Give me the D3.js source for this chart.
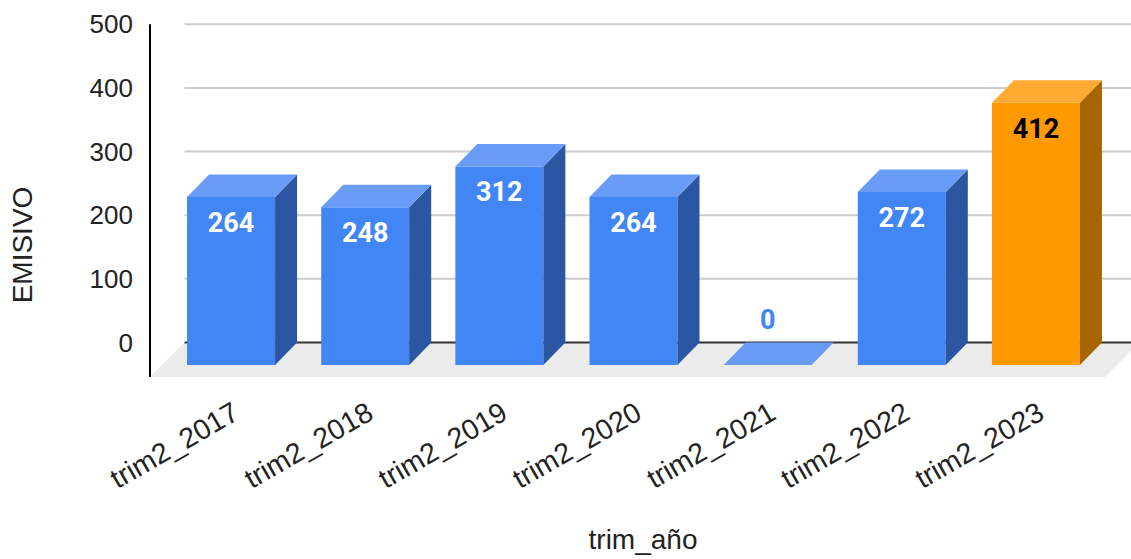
<!DOCTYPE html>
<html>
<head>
<meta charset="utf-8">
<script src="https://cdn.jsdelivr.net/npm/d3@7"></script>
<style>
  html, body { margin: 0; padding: 0; background: #fff; }
  svg { display: block; }
</style>
</head>
<body>
<svg id="chart" width="1131" height="559"></svg>
<script>
const categories = ["trim2_2017", "trim2_2018", "trim2_2019", "trim2_2020", "trim2_2021", "trim2_2022", "trim2_2023"];
const values = [264, 248, 312, 264, 0, 272, 412];
const highlight = [false, false, false, false, false, false, true];
const yTicks = [0, 100, 200, 300, 400, 500];
const xTitle = "trim_año";
const yTitle = "EMISIVO";

const W = 1131, H = 559;
const svg = d3.select("#chart");

// depth offset of the 3D effect (back plane is up-right of front plane)
const DX = 22, DY = 22.5;
const FLOOR_D = 34.5;

// back-plane value scale (gridlines)
const yBack = d3.scaleLinear().domain([0, 500]).range([342.5, 24.3]);
const yFront = v => yBack(v) + DY;

const x = d3.scaleBand().domain(categories).range([164, 1103]).paddingInner(0.344).paddingOuter(0.172);
const bw = x.bandwidth();

const palette = {
  blue:   { front: "#4285F4", top: "#699CF6", side: "#2B56A1" },
  orange: { front: "#FF9900", top: "#FFAB33", side: "#A86500" }
};

const axisX = 150;
const floorFrontY = yBack(0) + FLOOR_D;

// floor
svg.append("polygon")
  .attr("points", [[axisX, floorFrontY], [axisX + FLOOR_D, yBack(0)], [1105 + FLOOR_D, yBack(0)], [1105, floorFrontY]].map(p => p.join(",")).join(" "))
  .attr("fill", "#ebebeb");

// gridlines
const gridX0 = axisX + FLOOR_D;
svg.append("g").selectAll("line")
  .data(yTicks)
  .join("line")
  .attr("x1", gridX0).attr("x2", W)
  .attr("y1", d => yBack(d)).attr("y2", d => yBack(d))
  .attr("stroke", d => d === 0 ? "#333" : "#cccccc")
  .attr("stroke-width", 2);

// y axis line
svg.append("line")
  .attr("x1", axisX).attr("x2", axisX)
  .attr("y1", yBack(500)).attr("y2", floorFrontY)
  .attr("stroke", "#000").attr("stroke-width", 2);

// tick labels
svg.append("g").selectAll("text")
  .data(yTicks)
  .join("text")
  .attr("x", 133)
  .attr("y", d => yBack(d))
  .attr("dy", "0.35em")
  .attr("text-anchor", "end")
  .attr("font-family", "Liberation Sans, Arial, sans-serif")
  .attr("font-size", 26)
  .attr("fill", "#222")
  .text(d => d);

// bars
const bars = svg.append("g").selectAll("g")
  .data(categories.map((c, i) => ({ c, v: values[i], hl: highlight[i] })))
  .join("g");

bars.each(function(d) {
  const g = d3.select(this);
  const col = d.hl ? palette.orange : palette.blue;
  const x0 = x(d.c), x1 = x0 + bw;
  const yt = yFront(d.v), yb = yFront(0);
  const pts = a => a.map(p => p.join(",")).join(" ");
  if (yb - yt > 0) {
    g.append("polygon").attr("points", pts([[x0, yt], [x1, yt], [x1, yb], [x0, yb]])).attr("fill", col.front);
    g.append("polygon").attr("points", pts([[x1, yt], [x1 + DX, yt - DY], [x1 + DX, yb - DY], [x1, yb]])).attr("fill", col.side);
  }
  g.append("polygon").attr("points", pts([[x0, yt], [x0 + DX, yt - DY], [x1 + DX, yt - DY], [x1, yt]])).attr("fill", col.top);

  const inside = d.v > 40;
  g.append("text")
    .attr("x", x0 + bw / 2)
    .attr("y", inside ? yt + 35 : yt - 36)
    .attr("text-anchor", "middle")
    .attr("font-family", "Roboto, sans-serif")
    .attr("font-weight", "bold")
    .attr("font-size", 27)
    .attr("fill", inside ? (d.hl ? "#000" : "#fff") : palette.blue.front)
    .text(d.v);
});

// x labels
svg.append("g").selectAll("text")
  .data(categories)
  .join("text")
  .attr("transform", d => `translate(${x(d) + bw / 2 + 10},${418}) rotate(-30)`)
  .attr("text-anchor", "end")
  .attr("font-family", "Liberation Sans, Arial, sans-serif")
  .attr("font-size", 28.5)
  .attr("fill", "#222")
  .text(d => d);

// axis titles
svg.append("text")
  .attr("x", 643).attr("y", 549)
  .attr("text-anchor", "middle")
  .attr("font-family", "Liberation Sans, Arial, sans-serif")
  .attr("font-size", 28)
  .attr("fill", "#222")
  .text(xTitle);

svg.append("text")
  .attr("transform", `translate(32,245) rotate(-90)`)
  .attr("text-anchor", "middle")
  .attr("font-family", "Liberation Sans, Arial, sans-serif")
  .attr("font-size", 28)
  .attr("fill", "#222")
  .text(yTitle);
</script>
</body>
</html>
